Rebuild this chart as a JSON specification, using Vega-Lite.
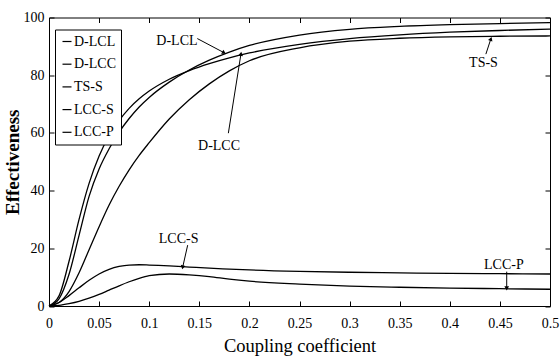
{
  "$schema": "https://vega.github.io/schema/vega-lite/v6.json",
  "width": 501,
  "height": 288.5,
  "autosize": {"type": "none"},
  "padding": {"left": 49, "top": 17.5, "right": 10, "bottom": 52},
  "background": "white",
  "config": {
    "view": {"stroke": "black", "strokeWidth": 1},
    "font": "Liberation Serif",
    "axis": {
      "labelFont": "Liberation Serif",
      "labelFontSize": 14,
      "labelColor": "black",
      "titleFont": "Liberation Serif",
      "titleColor": "black",
      "tickColor": "black",
      "domain": false,
      "grid": false
    }
  },
  "datasets": {
    "curves": [
      {"s":"D-LCL","k":0,"e":0},{"s":"D-LCL","k":0.01,"e":2.5},{"s":"D-LCL","k":0.02,"e":11},{"s":"D-LCL","k":0.03,"e":24.5},{"s":"D-LCL","k":0.04,"e":38},{"s":"D-LCL","k":0.05,"e":47.5},{"s":"D-LCL","k":0.06,"e":54.5},{"s":"D-LCL","k":0.07,"e":60.3},{"s":"D-LCL","k":0.08,"e":65},{"s":"D-LCL","k":0.09,"e":69},{"s":"D-LCL","k":0.1,"e":72.3},{"s":"D-LCL","k":0.12,"e":77.6},{"s":"D-LCL","k":0.14,"e":81.8},{"s":"D-LCL","k":0.16,"e":85.2},{"s":"D-LCL","k":0.18,"e":88},{"s":"D-LCL","k":0.2,"e":90.3},{"s":"D-LCL","k":0.25,"e":93.9},{"s":"D-LCL","k":0.3,"e":95.9},{"s":"D-LCL","k":0.35,"e":96.9},{"s":"D-LCL","k":0.4,"e":97.5},{"s":"D-LCL","k":0.45,"e":97.9},{"s":"D-LCL","k":0.5,"e":98.2},
      {"s":"D-LCC","k":0,"e":0},{"s":"D-LCC","k":0.01,"e":3.5},{"s":"D-LCC","k":0.02,"e":15.5},{"s":"D-LCC","k":0.03,"e":30},{"s":"D-LCC","k":0.04,"e":42.5},{"s":"D-LCC","k":0.05,"e":52},{"s":"D-LCC","k":0.06,"e":59},{"s":"D-LCC","k":0.07,"e":64.3},{"s":"D-LCC","k":0.08,"e":68.5},{"s":"D-LCC","k":0.09,"e":71.8},{"s":"D-LCC","k":0.1,"e":74.5},{"s":"D-LCC","k":0.12,"e":78.6},{"s":"D-LCC","k":0.14,"e":81.6},{"s":"D-LCC","k":0.16,"e":84},{"s":"D-LCC","k":0.18,"e":86},{"s":"D-LCC","k":0.2,"e":87.7},{"s":"D-LCC","k":0.25,"e":90.7},{"s":"D-LCC","k":0.3,"e":92.7},{"s":"D-LCC","k":0.35,"e":94},{"s":"D-LCC","k":0.4,"e":94.9},{"s":"D-LCC","k":0.45,"e":95.5},{"s":"D-LCC","k":0.5,"e":96},
      {"s":"TS-S","k":0,"e":0},{"s":"TS-S","k":0.01,"e":1.2},{"s":"TS-S","k":0.02,"e":5},{"s":"TS-S","k":0.03,"e":11.5},{"s":"TS-S","k":0.04,"e":19.5},{"s":"TS-S","k":0.05,"e":27.5},{"s":"TS-S","k":0.06,"e":35},{"s":"TS-S","k":0.07,"e":41.5},{"s":"TS-S","k":0.08,"e":47.2},{"s":"TS-S","k":0.09,"e":52.2},{"s":"TS-S","k":0.1,"e":56.6},{"s":"TS-S","k":0.12,"e":64.8},{"s":"TS-S","k":0.14,"e":71.5},{"s":"TS-S","k":0.16,"e":77},{"s":"TS-S","k":0.18,"e":81.5},{"s":"TS-S","k":0.2,"e":85},{"s":"TS-S","k":0.25,"e":89.5},{"s":"TS-S","k":0.3,"e":91.8},{"s":"TS-S","k":0.35,"e":92.8},{"s":"TS-S","k":0.4,"e":93.3},{"s":"TS-S","k":0.45,"e":93.5},{"s":"TS-S","k":0.5,"e":93.6},
      {"s":"LCC-S","k":0,"e":0},{"s":"LCC-S","k":0.01,"e":1.2},{"s":"LCC-S","k":0.02,"e":3.6},{"s":"LCC-S","k":0.03,"e":6.3},{"s":"LCC-S","k":0.04,"e":8.9},{"s":"LCC-S","k":0.05,"e":11.1},{"s":"LCC-S","k":0.06,"e":12.7},{"s":"LCC-S","k":0.07,"e":13.7},{"s":"LCC-S","k":0.08,"e":14.2},{"s":"LCC-S","k":0.09,"e":14.3},{"s":"LCC-S","k":0.1,"e":14.2},{"s":"LCC-S","k":0.12,"e":13.9},{"s":"LCC-S","k":0.14,"e":13.5},{"s":"LCC-S","k":0.16,"e":13.1},{"s":"LCC-S","k":0.18,"e":12.8},{"s":"LCC-S","k":0.2,"e":12.5},{"s":"LCC-S","k":0.25,"e":12},{"s":"LCC-S","k":0.3,"e":11.7},{"s":"LCC-S","k":0.35,"e":11.5},{"s":"LCC-S","k":0.4,"e":11.3},{"s":"LCC-S","k":0.45,"e":11.2},{"s":"LCC-S","k":0.5,"e":11.1},
      {"s":"LCC-P","k":0,"e":0},{"s":"LCC-P","k":0.01,"e":0.2},{"s":"LCC-P","k":0.02,"e":0.8},{"s":"LCC-P","k":0.03,"e":1.6},{"s":"LCC-P","k":0.04,"e":2.7},{"s":"LCC-P","k":0.05,"e":4},{"s":"LCC-P","k":0.06,"e":5.5},{"s":"LCC-P","k":0.07,"e":7},{"s":"LCC-P","k":0.08,"e":8.4},{"s":"LCC-P","k":0.09,"e":9.6},{"s":"LCC-P","k":0.1,"e":10.5},{"s":"LCC-P","k":0.12,"e":11.1},{"s":"LCC-P","k":0.14,"e":10.8},{"s":"LCC-P","k":0.16,"e":10.2},{"s":"LCC-P","k":0.18,"e":9.3},{"s":"LCC-P","k":0.2,"e":8.6},{"s":"LCC-P","k":0.25,"e":7.6},{"s":"LCC-P","k":0.3,"e":6.9},{"s":"LCC-P","k":0.35,"e":6.5},{"s":"LCC-P","k":0.4,"e":6.2},{"s":"LCC-P","k":0.45,"e":6},{"s":"LCC-P","k":0.5,"e":5.8}
    ],
    "notes": [
      {"n":"D-LCL","lx":0.1277,"ly":91.9,"ax":0.148,"ay":92.7,"tx":0.1747,"ty":87.8},
      {"n":"D-LCC","lx":0.1697,"ly":55.5,"ax":0.179,"ay":59.9,"tx":0.1916,"ty":87.4},
      {"n":"TS-S","lx":0.4336,"ly":84.4,"ax":0.436,"ay":87.3,"tx":0.441,"ty":92.6},
      {"n":"LCC-S","lx":0.1294,"ly":23.2,"ax":0.1384,"ay":21.1,"tx":0.1334,"ty":13.4},
      {"n":"LCC-P","lx":0.454,"ly":14.2,"ax":0.4568,"ay":11.9,"tx":0.4568,"ty":6.1}
    ]
  },
  "resolve": {"axis": {"x": "independent", "y": "independent"}},
  "layer": [
    {
      "data": {"name": "curves"},
      "mark": {"type": "line", "interpolate": "monotone", "strokeWidth": 1.3},
      "encoding": {
        "x": {"field": "k", "type": "quantitative",
              "scale": {"domain": [0, 0.5], "nice": false, "zero": false},
              "axis": {"orient": "bottom", "values": [0,0.05,0.1,0.15,0.2,0.25,0.3,0.35,0.4,0.45,0.5], "format": "~g",
                       "title": "Coupling coefficient", "titleFontSize": 18.5, "titleFontWeight": "normal",
                       "tickSize": -5, "labelPadding": 15, "titlePadding": 6, "labelFlush": false}},
        "y": {"field": "e", "type": "quantitative",
              "scale": {"domain": [0, 100], "nice": false},
              "axis": {"orient": "left", "values": [0,20,40,60,80,100],
                       "title": "Effectiveness", "titleFontSize": 19, "titleFontWeight": "bold",
                       "tickSize": -5, "labelPadding": 10, "titlePadding": 1}},
        "color": {"field": "s", "type": "nominal",
                  "scale": {"domain": ["D-LCL","D-LCC","TS-S","LCC-S","LCC-P"], "range": ["black","black","black","black","black"]},
                  "legend": {"orient": "none", "legendX": 6, "legendY": 12, "title": null,
                             "symbolType": "stroke", "symbolSize": 81, "symbolStrokeWidth": 1.2, "symbolStrokeColor": "black",
                             "labelFont": "Liberation Serif", "labelFontSize": 14, "labelColor": "black", "labelOffset": 0,
                             "rowPadding": 8.7, "padding": 5, "strokeColor": "black", "fillColor": "white"}}
      }
    },
    {
      "data": {"name": "notes"},
      "mark": {"type": "text", "font": "Liberation Serif", "fontSize": 14, "color": "black", "align": "center", "baseline": "middle"},
      "encoding": {
        "x": {"field": "lx", "type": "quantitative",
              "axis": {"orient": "top", "values": [0,0.05,0.1,0.15,0.2,0.25,0.3,0.35,0.4,0.45,0.5], "labels": false, "title": null, "tickSize": -5}},
        "y": {"field": "ly", "type": "quantitative",
              "axis": {"orient": "right", "values": [0,20,40,60,80,100], "labels": false, "title": null, "tickSize": -5}},
        "text": {"field": "n"}
      }
    },
    {
      "data": {"name": "notes"},
      "mark": {"type": "rule", "color": "black", "strokeWidth": 1},
      "encoding": {
        "x": {"field": "ax", "type": "quantitative", "axis": null},
        "y": {"field": "ay", "type": "quantitative", "axis": null},
        "x2": {"field": "tx"},
        "y2": {"field": "ty"}
      }
    },
    {
      "data": {"name": "notes"},
      "transform": [{"filter": "datum.n == 'D-LCL'"}],
      "mark": {"type": "point", "shape": "triangle-up", "filled": true, "color": "black", "size": 22, "angle": 119, "opacity": 1},
      "encoding": {"x": {"field": "tx", "type": "quantitative", "axis": null}, "y": {"field": "ty", "type": "quantitative", "axis": null}}
    },
    {
      "data": {"name": "notes"},
      "transform": [{"filter": "datum.n == 'D-LCC'"}],
      "mark": {"type": "point", "shape": "triangle-up", "filled": true, "color": "black", "size": 22, "angle": 9, "opacity": 1},
      "encoding": {"x": {"field": "tx", "type": "quantitative", "axis": null}, "y": {"field": "ty", "type": "quantitative", "axis": null}}
    },
    {
      "data": {"name": "notes"},
      "transform": [{"filter": "datum.n == 'TS-S'"}],
      "mark": {"type": "point", "shape": "triangle-up", "filled": true, "color": "black", "size": 22, "angle": 20, "opacity": 1},
      "encoding": {"x": {"field": "tx", "type": "quantitative", "axis": null}, "y": {"field": "ty", "type": "quantitative", "axis": null}}
    },
    {
      "data": {"name": "notes"},
      "transform": [{"filter": "datum.n == 'LCC-S'"}],
      "mark": {"type": "point", "shape": "triangle-up", "filled": true, "color": "black", "size": 22, "angle": 193, "opacity": 1},
      "encoding": {"x": {"field": "tx", "type": "quantitative", "axis": null}, "y": {"field": "ty", "type": "quantitative", "axis": null}}
    },
    {
      "data": {"name": "notes"},
      "transform": [{"filter": "datum.n == 'LCC-P'"}],
      "mark": {"type": "point", "shape": "triangle-up", "filled": true, "color": "black", "size": 22, "angle": 180, "opacity": 1},
      "encoding": {"x": {"field": "tx", "type": "quantitative", "axis": null}, "y": {"field": "ty", "type": "quantitative", "axis": null}}
    }
  ]
}
